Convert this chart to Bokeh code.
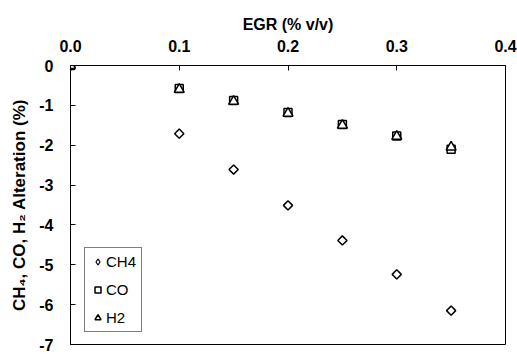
import numpy as np
from bokeh.plotting import figure
from bokeh.models import LinearAxis, Range1d, FixedTicker, Legend, LegendItem, CustomJSTickFormatter
from bokeh.embed import file_html
from bokeh.resources import INLINE

egr = [0.0, 0.1, 0.15, 0.2, 0.25, 0.3, 0.35]
ch4 = [0.0, -1.71, -2.61, -3.51, -4.39, -5.24, -6.15]
co = [0.0, -0.58, -0.88, -1.18, -1.48, -1.77, -2.10]
h2 = [0.0, -0.60, -0.90, -1.20, -1.50, -1.78, -2.05]

x_ticks = [0.0, 0.1, 0.2, 0.3, 0.4]
y_ticks = [-7, -6, -5, -4, -3, -2, -1, 0]

FONT = "Liberation Sans"

p = figure(width=517, height=356, output_backend="svg", toolbar_location=None,
           x_range=Range1d(0, 0.4), y_range=Range1d(-7, 0),
           x_axis_location=None, y_axis_location=None,
           min_border_left=70, min_border_right=12, min_border_top=65, min_border_bottom=12)
p.xgrid.visible = False
p.ygrid.visible = False
p.outline_line_color = "black"
p.outline_line_width = 1
p.background_fill_color = "white"
p.border_fill_color = "white"

xa = LinearAxis(axis_label="EGR (% v/v)")
xa.ticker = FixedTicker(ticks=x_ticks)
xa.formatter = CustomJSTickFormatter(code="return tick.toFixed(1);")
xa.major_label_standoff = 14
xa.axis_label_standoff = 4
p.add_layout(xa, "above")

ya = LinearAxis(axis_label="CH\u2084, CO, H\u2082 Alteration (%)")
ya.ticker = FixedTicker(ticks=y_ticks)
ya.formatter = CustomJSTickFormatter(code="return tick.toFixed(0).replace('\u2212','-');")
ya.major_label_standoff = 17
ya.axis_label_standoff = 7
p.add_layout(ya, "left")

for ax in (xa, ya):
    ax.axis_line_color = "black"
    ax.major_tick_line_color = "black"
    ax.major_tick_in = 5
    ax.major_tick_out = 0
    ax.minor_tick_line_color = None
    ax.major_label_text_font = FONT
    ax.major_label_text_font_style = "bold"
    ax.major_label_text_font_size = "16px"
    ax.major_label_text_color = "black"
    ax.axis_label_text_font = FONT
    ax.axis_label_text_font_style = "bold"
    ax.axis_label_text_font_size = "16px"
    ax.axis_label_text_color = "black"
ya.axis_label_text_font_size = "17px"

r1 = p.scatter(egr, ch4, marker="square", angle=np.pi / 4, size=6.5,
               fill_color="white", line_color="black", line_width=1.5)
r2 = p.scatter(egr, co, marker="square", size=8,
               fill_color="white", line_color="black", line_width=1.5)
r3 = p.scatter(egr, h2, marker="triangle", size=10,
               fill_color="white", line_color="black", line_width=1.5)

# legend-only proxy glyph for the diamond (legend glyphs ignore angle)
r1_leg = p.scatter(egr, ch4, marker="diamond", size=9, visible=False,
                   fill_color="white", line_color="black", line_width=1.2)

legend = Legend(items=[LegendItem(label="CH4", renderers=[r1_leg]),
                       LegendItem(label="CO", renderers=[r2]),
                       LegendItem(label="H2", renderers=[r3])],
                location=(14, 12))
legend.border_line_color = "black"
legend.border_line_width = 1
legend.background_fill_color = "white"
legend.label_text_font = FONT
legend.label_text_font_size = "15px"
legend.label_text_color = "black"
legend.glyph_width = 15
legend.glyph_height = 17
legend.label_standoff = 1
legend.label_height = 17
legend.spacing = 11
legend.padding = 5
legend.margin = 0
p.add_layout(legend)

open("out.html", "w").write(file_html(p, INLINE))
